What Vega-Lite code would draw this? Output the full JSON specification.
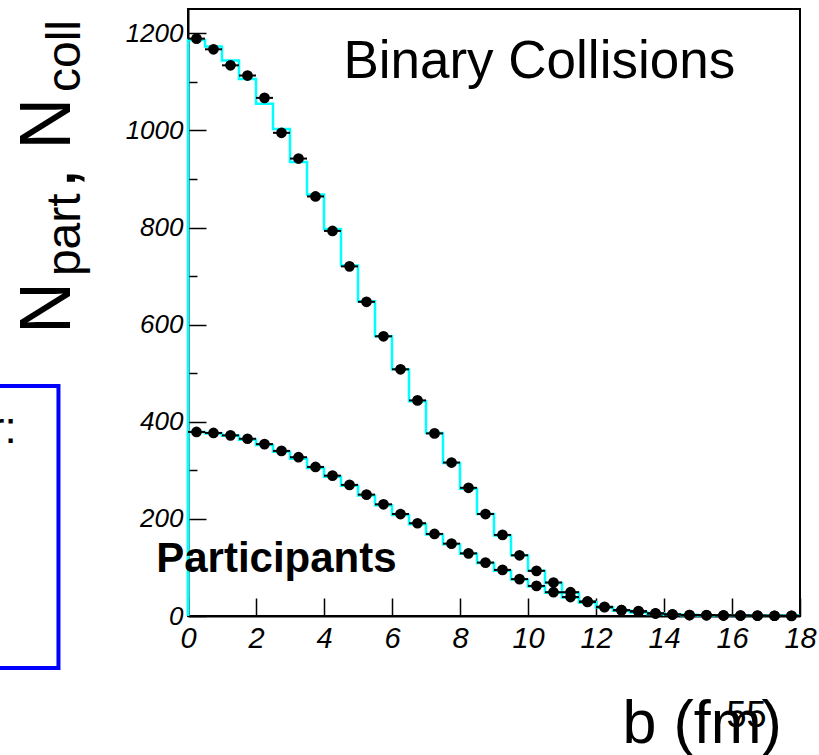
{
  "$schema": "https://vega.github.io/schema/vega-lite/v6.json",
  "autosize": "none",
  "padding": {"left": 188, "top": 9, "right": 19, "bottom": 139},
  "width": 612,
  "height": 607,
  "background": "white",
  "config": {
    "view": {"stroke": "black", "strokeWidth": 2},
    "font": "Liberation Sans"
  },
  "datasets": {
    "points": [
      {"series": "Ncoll", "b": 0.25, "lo": 0.0, "hi": 0.5, "value": 1189},
      {"series": "Ncoll", "b": 0.75, "lo": 0.5, "hi": 1.0, "value": 1167},
      {"series": "Ncoll", "b": 1.25, "lo": 1.0, "hi": 1.5, "value": 1134},
      {"series": "Ncoll", "b": 1.75, "lo": 1.5, "hi": 2.0, "value": 1113},
      {"series": "Ncoll", "b": 2.25, "lo": 2.0, "hi": 2.5, "value": 1067},
      {"series": "Ncoll", "b": 2.75, "lo": 2.5, "hi": 3.0, "value": 995},
      {"series": "Ncoll", "b": 3.25, "lo": 3.0, "hi": 3.5, "value": 942},
      {"series": "Ncoll", "b": 3.75, "lo": 3.5, "hi": 4.0, "value": 864},
      {"series": "Ncoll", "b": 4.25, "lo": 4.0, "hi": 4.5, "value": 793},
      {"series": "Ncoll", "b": 4.75, "lo": 4.5, "hi": 5.0, "value": 720},
      {"series": "Ncoll", "b": 5.25, "lo": 5.0, "hi": 5.5, "value": 647},
      {"series": "Ncoll", "b": 5.75, "lo": 5.5, "hi": 6.0, "value": 576},
      {"series": "Ncoll", "b": 6.25, "lo": 6.0, "hi": 6.5, "value": 508},
      {"series": "Ncoll", "b": 6.75, "lo": 6.5, "hi": 7.0, "value": 444},
      {"series": "Ncoll", "b": 7.25, "lo": 7.0, "hi": 7.5, "value": 376},
      {"series": "Ncoll", "b": 7.75, "lo": 7.5, "hi": 8.0, "value": 316},
      {"series": "Ncoll", "b": 8.25, "lo": 8.0, "hi": 8.5, "value": 264},
      {"series": "Ncoll", "b": 8.75, "lo": 8.5, "hi": 9.0, "value": 210},
      {"series": "Ncoll", "b": 9.25, "lo": 9.0, "hi": 9.5, "value": 167},
      {"series": "Ncoll", "b": 9.75, "lo": 9.5, "hi": 10.0, "value": 125},
      {"series": "Ncoll", "b": 10.25, "lo": 10.0, "hi": 10.5, "value": 93},
      {"series": "Ncoll", "b": 10.75, "lo": 10.5, "hi": 11.0, "value": 69},
      {"series": "Ncoll", "b": 11.25, "lo": 11.0, "hi": 11.5, "value": 49},
      {"series": "Ncoll", "b": 11.75, "lo": 11.5, "hi": 12.0, "value": 30},
      {"series": "Ncoll", "b": 12.25, "lo": 12.0, "hi": 12.5, "value": 18},
      {"series": "Ncoll", "b": 12.75, "lo": 12.5, "hi": 13.0, "value": 12},
      {"series": "Ncoll", "b": 13.25, "lo": 13.0, "hi": 13.5, "value": 10},
      {"series": "Ncoll", "b": 13.75, "lo": 13.5, "hi": 14.0, "value": 5.5},
      {"series": "Ncoll", "b": 14.25, "lo": 14.0, "hi": 14.5, "value": 3.4},
      {"series": "Ncoll", "b": 14.75, "lo": 14.5, "hi": 15.0, "value": 2},
      {"series": "Ncoll", "b": 15.25, "lo": 15.0, "hi": 15.5, "value": 2},
      {"series": "Ncoll", "b": 15.75, "lo": 15.5, "hi": 16.0, "value": 1.5},
      {"series": "Ncoll", "b": 16.25, "lo": 16.0, "hi": 16.5, "value": 1},
      {"series": "Ncoll", "b": 16.75, "lo": 16.5, "hi": 17.0, "value": 1},
      {"series": "Ncoll", "b": 17.25, "lo": 17.0, "hi": 17.5, "value": 0.5},
      {"series": "Ncoll", "b": 17.75, "lo": 17.5, "hi": 18.0, "value": 0.5},
      {"series": "Npart", "b": 0.25, "lo": 0.0, "hi": 0.5, "value": 379},
      {"series": "Npart", "b": 0.75, "lo": 0.5, "hi": 1.0, "value": 377},
      {"series": "Npart", "b": 1.25, "lo": 1.0, "hi": 1.5, "value": 372},
      {"series": "Npart", "b": 1.75, "lo": 1.5, "hi": 2.0, "value": 365},
      {"series": "Npart", "b": 2.25, "lo": 2.0, "hi": 2.5, "value": 354},
      {"series": "Npart", "b": 2.75, "lo": 2.5, "hi": 3.0, "value": 340},
      {"series": "Npart", "b": 3.25, "lo": 3.0, "hi": 3.5, "value": 327},
      {"series": "Npart", "b": 3.75, "lo": 3.5, "hi": 4.0, "value": 307},
      {"series": "Npart", "b": 4.25, "lo": 4.0, "hi": 4.5, "value": 289},
      {"series": "Npart", "b": 4.75, "lo": 4.5, "hi": 5.0, "value": 270},
      {"series": "Npart", "b": 5.25, "lo": 5.0, "hi": 5.5, "value": 250},
      {"series": "Npart", "b": 5.75, "lo": 5.5, "hi": 6.0, "value": 230},
      {"series": "Npart", "b": 6.25, "lo": 6.0, "hi": 6.5, "value": 210},
      {"series": "Npart", "b": 6.75, "lo": 6.5, "hi": 7.0, "value": 191},
      {"series": "Npart", "b": 7.25, "lo": 7.0, "hi": 7.5, "value": 169},
      {"series": "Npart", "b": 7.75, "lo": 7.5, "hi": 8.0, "value": 149},
      {"series": "Npart", "b": 8.25, "lo": 8.0, "hi": 8.5, "value": 129},
      {"series": "Npart", "b": 8.75, "lo": 8.5, "hi": 9.0, "value": 110},
      {"series": "Npart", "b": 9.25, "lo": 9.0, "hi": 9.5, "value": 95},
      {"series": "Npart", "b": 9.75, "lo": 9.5, "hi": 10.0, "value": 76},
      {"series": "Npart", "b": 10.25, "lo": 10.0, "hi": 10.5, "value": 62},
      {"series": "Npart", "b": 10.75, "lo": 10.5, "hi": 11.0, "value": 49},
      {"series": "Npart", "b": 11.25, "lo": 11.0, "hi": 11.5, "value": 39},
      {"series": "Npart", "b": 11.75, "lo": 11.5, "hi": 12.0, "value": 29},
      {"series": "Npart", "b": 12.25, "lo": 12.0, "hi": 12.5, "value": 19},
      {"series": "Npart", "b": 12.75, "lo": 12.5, "hi": 13.0, "value": 12},
      {"series": "Npart", "b": 13.25, "lo": 13.0, "hi": 13.5, "value": 9},
      {"series": "Npart", "b": 13.75, "lo": 13.5, "hi": 14.0, "value": 5},
      {"series": "Npart", "b": 14.25, "lo": 14.0, "hi": 14.5, "value": 3},
      {"series": "Npart", "b": 14.75, "lo": 14.5, "hi": 15.0, "value": 2},
      {"series": "Npart", "b": 15.25, "lo": 15.0, "hi": 15.5, "value": 1.5},
      {"series": "Npart", "b": 15.75, "lo": 15.5, "hi": 16.0, "value": 1},
      {"series": "Npart", "b": 16.25, "lo": 16.0, "hi": 16.5, "value": 1},
      {"series": "Npart", "b": 16.75, "lo": 16.5, "hi": 17.0, "value": 0.5},
      {"series": "Npart", "b": 17.25, "lo": 17.0, "hi": 17.5, "value": 0.5},
      {"series": "Npart", "b": 17.75, "lo": 17.5, "hi": 18.0, "value": 0.3}
    ],
    "hist": [
      {"series": "Ncoll", "i": 0, "edge": 0.0, "value": 0},
      {"series": "Ncoll", "i": 1, "edge": 0.0, "value": 1186},
      {"series": "Ncoll", "i": 2, "edge": 0.5, "value": 1173},
      {"series": "Ncoll", "i": 3, "edge": 1.0, "value": 1144},
      {"series": "Ncoll", "i": 4, "edge": 1.5, "value": 1106},
      {"series": "Ncoll", "i": 5, "edge": 2.0, "value": 1055},
      {"series": "Ncoll", "i": 6, "edge": 2.5, "value": 1003},
      {"series": "Ncoll", "i": 7, "edge": 3.0, "value": 935},
      {"series": "Ncoll", "i": 8, "edge": 3.5, "value": 868},
      {"series": "Ncoll", "i": 9, "edge": 4.0, "value": 797},
      {"series": "Ncoll", "i": 10, "edge": 4.5, "value": 722},
      {"series": "Ncoll", "i": 11, "edge": 5.0, "value": 648},
      {"series": "Ncoll", "i": 12, "edge": 5.5, "value": 576},
      {"series": "Ncoll", "i": 13, "edge": 6.0, "value": 508},
      {"series": "Ncoll", "i": 14, "edge": 6.5, "value": 442},
      {"series": "Ncoll", "i": 15, "edge": 7.0, "value": 377},
      {"series": "Ncoll", "i": 16, "edge": 7.5, "value": 315},
      {"series": "Ncoll", "i": 17, "edge": 8.0, "value": 262},
      {"series": "Ncoll", "i": 18, "edge": 8.5, "value": 210},
      {"series": "Ncoll", "i": 19, "edge": 9.0, "value": 166},
      {"series": "Ncoll", "i": 20, "edge": 9.5, "value": 125},
      {"series": "Ncoll", "i": 21, "edge": 10.0, "value": 93},
      {"series": "Ncoll", "i": 22, "edge": 10.5, "value": 68},
      {"series": "Ncoll", "i": 23, "edge": 11.0, "value": 48},
      {"series": "Ncoll", "i": 24, "edge": 11.5, "value": 29},
      {"series": "Ncoll", "i": 25, "edge": 12.0, "value": 18},
      {"series": "Ncoll", "i": 26, "edge": 12.5, "value": 11},
      {"series": "Ncoll", "i": 27, "edge": 13.0, "value": 8},
      {"series": "Ncoll", "i": 28, "edge": 13.5, "value": 5},
      {"series": "Ncoll", "i": 29, "edge": 14.0, "value": 3},
      {"series": "Ncoll", "i": 30, "edge": 14.5, "value": 2},
      {"series": "Ncoll", "i": 31, "edge": 15.0, "value": 1.5},
      {"series": "Ncoll", "i": 32, "edge": 15.5, "value": 1},
      {"series": "Ncoll", "i": 33, "edge": 16.0, "value": 1},
      {"series": "Ncoll", "i": 34, "edge": 16.5, "value": 0.5},
      {"series": "Ncoll", "i": 35, "edge": 17.0, "value": 0.5},
      {"series": "Ncoll", "i": 36, "edge": 17.5, "value": 0.3},
      {"series": "Ncoll", "i": 37, "edge": 18.0, "value": 0.3},
      {"series": "Npart", "i": 0, "edge": 0.0, "value": 0},
      {"series": "Npart", "i": 1, "edge": 0.0, "value": 379},
      {"series": "Npart", "i": 2, "edge": 0.5, "value": 376},
      {"series": "Npart", "i": 3, "edge": 1.0, "value": 371},
      {"series": "Npart", "i": 4, "edge": 1.5, "value": 363},
      {"series": "Npart", "i": 5, "edge": 2.0, "value": 352},
      {"series": "Npart", "i": 6, "edge": 2.5, "value": 338},
      {"series": "Npart", "i": 7, "edge": 3.0, "value": 324},
      {"series": "Npart", "i": 8, "edge": 3.5, "value": 305},
      {"series": "Npart", "i": 9, "edge": 4.0, "value": 287},
      {"series": "Npart", "i": 10, "edge": 4.5, "value": 268},
      {"series": "Npart", "i": 11, "edge": 5.0, "value": 248},
      {"series": "Npart", "i": 12, "edge": 5.5, "value": 228},
      {"series": "Npart", "i": 13, "edge": 6.0, "value": 208},
      {"series": "Npart", "i": 14, "edge": 6.5, "value": 189},
      {"series": "Npart", "i": 15, "edge": 7.0, "value": 168},
      {"series": "Npart", "i": 16, "edge": 7.5, "value": 148},
      {"series": "Npart", "i": 17, "edge": 8.0, "value": 128},
      {"series": "Npart", "i": 18, "edge": 8.5, "value": 109},
      {"series": "Npart", "i": 19, "edge": 9.0, "value": 93},
      {"series": "Npart", "i": 20, "edge": 9.5, "value": 75},
      {"series": "Npart", "i": 21, "edge": 10.0, "value": 61},
      {"series": "Npart", "i": 22, "edge": 10.5, "value": 48},
      {"series": "Npart", "i": 23, "edge": 11.0, "value": 38},
      {"series": "Npart", "i": 24, "edge": 11.5, "value": 28},
      {"series": "Npart", "i": 25, "edge": 12.0, "value": 18},
      {"series": "Npart", "i": 26, "edge": 12.5, "value": 11},
      {"series": "Npart", "i": 27, "edge": 13.0, "value": 7},
      {"series": "Npart", "i": 28, "edge": 13.5, "value": 4},
      {"series": "Npart", "i": 29, "edge": 14.0, "value": 3},
      {"series": "Npart", "i": 30, "edge": 14.5, "value": 2},
      {"series": "Npart", "i": 31, "edge": 15.0, "value": 1.5},
      {"series": "Npart", "i": 32, "edge": 15.5, "value": 1},
      {"series": "Npart", "i": 33, "edge": 16.0, "value": 1},
      {"series": "Npart", "i": 34, "edge": 16.5, "value": 0.5},
      {"series": "Npart", "i": 35, "edge": 17.0, "value": 0.5},
      {"series": "Npart", "i": 36, "edge": 17.5, "value": 0.3},
      {"series": "Npart", "i": 37, "edge": 18.0, "value": 0.3}
    ]
  },
  "layer": [
    {
      "data": {"name": "hist"},
      "mark": {"type": "line", "interpolate": "step-after", "color": "#00ffff", "strokeWidth": 2.5},
      "encoding": {
        "x": {
          "field": "edge", "type": "quantitative",
          "scale": {"domain": [0, 18], "nice": false, "zero": false},
          "axis": {
            "title": null,
            "values": [0,0.5,1,1.5,2,2.5,3,3.5,4,4.5,5,5.5,6,6.5,7,7.5,8,8.5,9,9.5,10,10.5,11,11.5,12,12.5,13,13.5,14,14.5,15,15.5,16,16.5,17,17.5,18],
            "labelExpr": "datum.value % 2 === 0 ? datum.label : ''",
            "labelOverlap": false,
            "labelFlush": false,
            "ticks": false,
            "tickSize": 0,
            "grid": true,
            "gridColor": "black",
            "gridOpacity": 1,
            "gridWidth": 1.5,
            "gridDash": {"condition": {"test": "datum.value % 2 === 0", "value": [0, 589, 18, 3000]}, "value": [0, 597, 10, 3000]},
            "domain": true,
            "domainColor": "black",
            "domainWidth": 2,
            "labelFont": "Liberation Sans",
            "labelFontStyle": "italic",
            "labelFontSize": 29,
            "labelColor": "black",
            "labelPadding": 8
          }
        },
        "y": {
          "field": "value", "type": "quantitative",
          "scale": {"domain": [0, 1250], "nice": false, "zero": true},
          "axis": {
            "title": null,
            "values": [0,50,100,150,200,250,300,350,400,450,500,550,600,650,700,750,800,850,900,950,1000,1050,1100,1150,1200],
            "labelExpr": "datum.value % 200 === 0 ? datum.label : ''",
            "format": "d",
            "labelOverlap": false,
            "labelFlush": false,
            "ticks": false,
            "tickSize": 0,
            "grid": true,
            "gridColor": "black",
            "gridOpacity": 1,
            "gridWidth": 1.5,
            "gridDash": {"condition": {"test": "datum.value % 200 === 0", "value": [18, 3000]}, "value": [9, 3000]},
            "domain": true,
            "domainColor": "black",
            "domainWidth": 2,
            "labelFont": "Liberation Sans",
            "labelFontStyle": "italic",
            "labelFontSize": 26,
            "labelColor": "black",
            "labelPadding": 5
          }
        },
        "detail": {"field": "series"},
        "order": {"field": "i", "type": "quantitative"}
      }
    },
    {
      "data": {"name": "points"},
      "mark": {"type": "rule", "color": "black", "strokeWidth": 2},
      "encoding": {
        "x": {"field": "lo", "type": "quantitative"},
        "x2": {"field": "hi"},
        "y": {"field": "value", "type": "quantitative"}
      }
    },
    {
      "data": {"name": "points"},
      "mark": {"type": "circle", "color": "black", "opacity": 1, "size": 115},
      "encoding": {
        "x": {"field": "b", "type": "quantitative"},
        "y": {"field": "value", "type": "quantitative"}
      }
    },
    {
      "data": {"values": [{}]},
      "mark": {"type": "rect", "fill": null, "fillOpacity": 0, "stroke": "#0000ff", "strokeWidth": 4},
      "encoding": {
        "x": {"datum": -12, "type": "quantitative"},
        "x2": {"datum": -3.81},
        "y": {"datum": 473.6, "type": "quantitative"},
        "y2": {"datum": -107}
      }
    },
    {
      "data": {"values": [{}]},
      "mark": {"type": "text", "text": "r:", "align": "right", "baseline": "alphabetic", "fontSize": 44, "font": "Liberation Sans", "color": "black"},
      "encoding": {
        "x": {"datum": -5.04, "type": "quantitative"},
        "y": {"datum": 356, "type": "quantitative"}
      }
    },
    {
      "data": {"values": [{}]},
      "mark": {"type": "text", "text": "N", "angle": 270, "align": "left", "baseline": "alphabetic", "fontSize": 72, "font": "Liberation Sans", "color": "black"},
      "encoding": {
        "x": {"datum": -3.456, "type": "quantitative"},
        "y": {"datum": 580.7, "type": "quantitative"}
      }
    },
    {
      "data": {"values": [{}]},
      "mark": {"type": "text", "text": "part", "angle": 270, "align": "left", "baseline": "alphabetic", "fontSize": 48, "font": "Liberation Sans", "color": "black"},
      "encoding": {
        "x": {"datum": -3.19, "type": "quantitative"},
        "y": {"datum": 700, "type": "quantitative"}
      }
    },
    {
      "data": {"values": [{}]},
      "mark": {"type": "text", "text": ",", "angle": 270, "align": "left", "baseline": "alphabetic", "fontSize": 76, "font": "Liberation Sans", "color": "black"},
      "encoding": {
        "x": {"datum": -3.33, "type": "quantitative"},
        "y": {"datum": 880, "type": "quantitative"}
      }
    },
    {
      "data": {"values": [{}]},
      "mark": {"type": "text", "text": "N", "angle": 270, "align": "left", "baseline": "alphabetic", "fontSize": 72, "font": "Liberation Sans", "color": "black"},
      "encoding": {
        "x": {"datum": -3.456, "type": "quantitative"},
        "y": {"datum": 960, "type": "quantitative"}
      }
    },
    {
      "data": {"values": [{}]},
      "mark": {"type": "text", "text": "coll", "angle": 270, "align": "left", "baseline": "alphabetic", "fontSize": 48, "font": "Liberation Sans", "color": "black"},
      "encoding": {
        "x": {"datum": -3.19, "type": "quantitative"},
        "y": {"datum": 1079, "type": "quantitative"}
      }
    },
    {
      "data": {"values": [{}]},
      "mark": {"type": "text", "text": "Binary Collisions", "align": "left", "baseline": "alphabetic", "fontSize": 53, "font": "Liberation Sans", "color": "black"},
      "encoding": {
        "x": {"datum": 4.57, "type": "quantitative"},
        "y": {"datum": 1108, "type": "quantitative"}
      }
    },
    {
      "data": {"values": [{}]},
      "mark": {"type": "text", "text": "Participants", "align": "left", "baseline": "alphabetic", "fontSize": 42, "fontWeight": "bold", "font": "Liberation Sans", "color": "black"},
      "encoding": {
        "x": {"datum": -0.935, "type": "quantitative"},
        "y": {"datum": 91.2, "type": "quantitative"}
      }
    },
    {
      "data": {"values": [{}]},
      "mark": {"type": "text", "text": "b (fm)", "align": "left", "baseline": "alphabetic", "fontSize": 61, "font": "Liberation Sans", "color": "black"},
      "encoding": {
        "x": {"datum": 12.78, "type": "quantitative"},
        "y": {"datum": -261.5, "type": "quantitative"}
      }
    },
    {
      "data": {"values": [{}]},
      "mark": {"type": "text", "text": "55", "align": "left", "baseline": "alphabetic", "fontSize": 36, "font": "Liberation Sans", "color": "black"},
      "encoding": {
        "x": {"datum": 15.84, "type": "quantitative"},
        "y": {"datum": -228.6, "type": "quantitative"}
      }
    }
  ]
}
